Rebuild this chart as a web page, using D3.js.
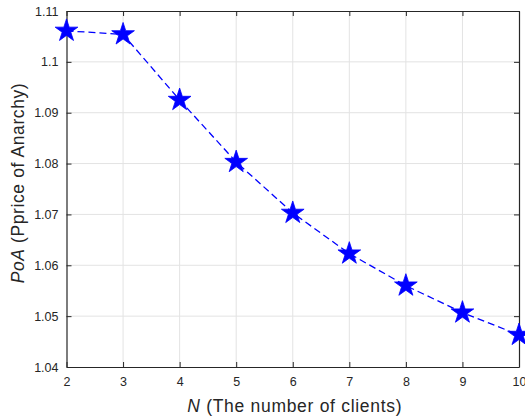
<!DOCTYPE html>
<html>
<head>
<meta charset="utf-8">
<script src="https://cdn.jsdelivr.net/npm/d3@7"></script>
<style>
  body { margin: 0; background: #fff; }
  text { font-family: "Liberation Sans", Arial, sans-serif; }
</style>
</head>
<body>
<div id="chart"></div>
<script>
// данные
const clients = [2, 3, 4, 5, 6, 7, 8, 9, 10];
const poaValues = [1.1061, 1.1054, 1.0925, 1.0803, 1.0703, 1.0623, 1.0560, 1.0507, 1.0463];
const xTicks = [2, 3, 4, 5, 6, 7, 8, 9, 10];
const yTicks = [1.04, 1.05, 1.06, 1.07, 1.08, 1.09, 1.1, 1.11];

const width = 525, height = 420;
const margin = { left: 66.5, right: 6, top: 11, bottom: 53 };

const svg = d3.select("#chart").append("svg")
    .attr("width", width)
    .attr("height", height);

const x = d3.scaleLinear().domain([2, 10]).range([margin.left, width - margin.right]);
const y = d3.scaleLinear().domain([1.04, 1.11]).range([height - margin.bottom, margin.top]);

const x0 = x.range()[0], x1 = x.range()[1];
const y0 = y.range()[0], y1 = y.range()[1];

// сетка
svg.append("g").selectAll("line.gx")
    .data(xTicks.slice(1, -1))
    .join("line")
    .attr("x1", d => x(d)).attr("x2", d => x(d))
    .attr("y1", y0).attr("y2", y1)
    .attr("stroke", "#e3e3e3").attr("stroke-width", 1);

svg.append("g").selectAll("line.gy")
    .data(yTicks.slice(1, -1))
    .join("line")
    .attr("y1", d => y(d)).attr("y2", d => y(d))
    .attr("x1", x0).attr("x2", x1)
    .attr("stroke", "#e3e3e3").attr("stroke-width", 1);

// оси (тики внутрь)
const axisColor = "#262626";
const tickFmt = d => d3.format("")(+d.toFixed(2));

const gx = svg.append("g")
    .attr("transform", `translate(0,${y0})`)
    .call(d3.axisBottom(x).tickValues(xTicks).tickSizeInner(-5).tickSizeOuter(0).tickPadding(10).tickFormat(d3.format("d")));
const gy = svg.append("g")
    .attr("transform", `translate(${x0},0)`)
    .call(d3.axisLeft(y).tickValues(yTicks).tickSizeInner(-5).tickSizeOuter(0).tickPadding(8).tickFormat(tickFmt));
const gxTop = svg.append("g")
    .attr("transform", `translate(0,${y1})`)
    .call(d3.axisTop(x).tickValues(xTicks).tickSizeInner(-5).tickSizeOuter(0).tickFormat(""));
const gyRight = svg.append("g")
    .attr("transform", `translate(${x1},0)`)
    .call(d3.axisRight(y).tickValues(yTicks).tickSizeInner(-5).tickSizeOuter(0).tickFormat(""));

[gx, gy, gxTop, gyRight].forEach(g => {
    g.select(".domain").attr("stroke", axisColor).attr("stroke-width", 1.2);
    g.selectAll(".tick line").attr("stroke", axisColor);
    g.selectAll(".tick text")
        .attr("fill", axisColor)
        .style("font-size", "12.5px")
        .style("font-family", "'Liberation Sans', Arial, sans-serif");
});

// линия
const line = d3.line()
    .x((d, i) => x(clients[i]))
    .y(d => y(d));

svg.append("path")
    .datum(poaValues)
    .attr("fill", "none")
    .attr("stroke", "#0000ff")
    .attr("stroke-width", 1.3)
    .attr("stroke-dasharray", "7,4")
    .attr("d", line);

// звёзды
const star = d3.symbol().type(d3.symbolStar).size(160);
svg.append("g").selectAll("path")
    .data(poaValues)
    .join("path")
    .attr("transform", (d, i) => `translate(${x(clients[i])},${y(d)})`)
    .attr("d", star)
    .attr("fill", "#0000ff")
    .attr("stroke", "#0000ff")
    .attr("stroke-width", 0.8);

// подписи осей
const xl = svg.append("text")
    .attr("x", (x0 + x1) / 2 + 2)
    .attr("y", height - 8)
    .attr("text-anchor", "middle")
    .attr("fill", axisColor)
    .style("font-size", "17.5px")
    .style("letter-spacing", "0.7px");
xl.append("tspan").style("font-style", "italic").text("N");
xl.append("tspan").text(" (The number of clients)");

const yl = svg.append("text")
    .attr("transform", `translate(24,183) rotate(-90)`)
    .attr("text-anchor", "middle")
    .attr("fill", axisColor)
    .style("font-size", "17.5px")
    .style("letter-spacing", "0.6px");
yl.append("tspan").style("font-style", "italic").text("PoA");
yl.append("tspan").text(" (Pprice of Anarchy)");
</script>
</body>
</html>
